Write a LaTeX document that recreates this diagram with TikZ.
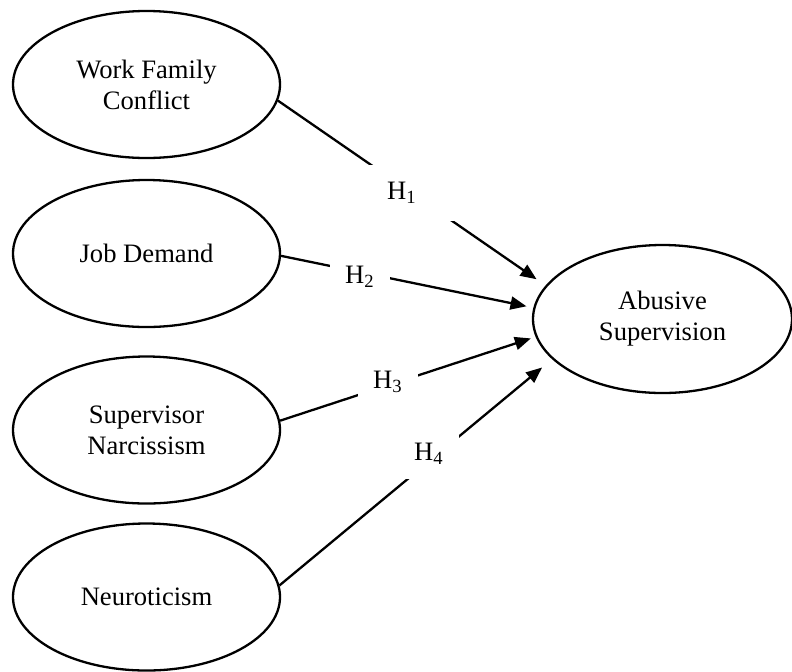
\documentclass[tikz,border=0pt]{standalone}
\usepackage{fontspec}
\setmainfont{Liberation Serif}
\usepackage{tikz}
\usetikzlibrary{shapes.geometric,arrows.meta}

\begin{document}
\begin{tikzpicture}[
   x=0.5pt, y=-0.5pt,
   every node/.append style={align=center, font=\fontsize{13.3}{15.5}\selectfont},
   construct/.style={draw, ellipse, line width=1.15pt, inner sep=0pt,
      minimum width=133.5pt, minimum height=73.5pt},
   hyp/.style={line width=1.15pt, -{Triangle[length=8pt,width=6.5pt]}},
   hlabel/.style={fill=white, inner sep=0pt, minimum width=30pt, minimum height=25pt}
]
\useasboundingbox (0,0) rectangle (792,671);

% constructs
\node[construct] (wfc) at (146.5,84.5) {Work Family\\Conflict};
\node[construct] (jd)  at (146.5,253.5) {Job Demand};
\node[construct] (sn)  at (146.5,430) {Supervisor\\Narcissism};
\node[construct] (neu) at (146.5,597) {Neuroticism};
\node[construct, minimum width=129.5pt, minimum height=74pt] (abs) at (662.5,319)
   {Abusive\\Supervision};

% hypotheses
\draw[hyp, shorten >=5.5pt] (wfc.-7)  -- (abs.164);
\draw[hyp, shorten >=3.5pt] (jd.-1.5) -- (abs.175);
\draw[hyp, shorten >=2.5pt] (sn.4)    -- (abs.-172.5);
\draw[hyp, shorten >=6.5pt] (neu.5)   -- (abs.-160);

\node[hlabel, minimum width=55pt, minimum height=28pt] (h1) at (402,193) {H\textsubscript{1}};
\node[hlabel] (h2) at (360,277) {H\textsubscript{2}};
\node[hlabel] (h3) at (388,382) {H\textsubscript{3}};
\node[hlabel] (h4) at (429,454) {H\textsubscript{4}};
\end{tikzpicture}
\end{document}
